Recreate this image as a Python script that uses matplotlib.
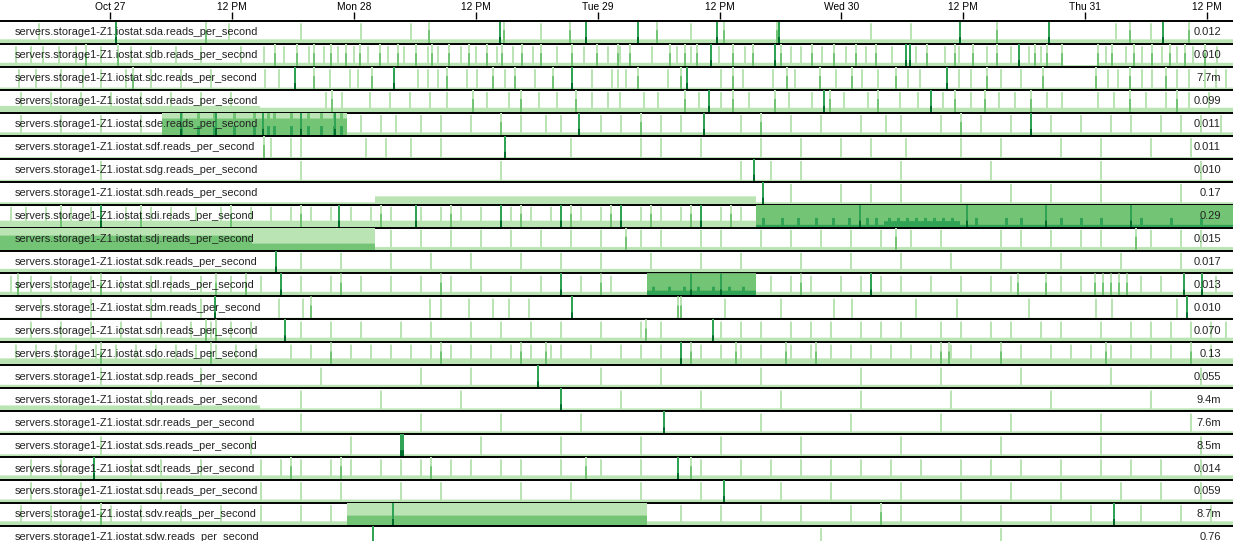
import numpy as np
import matplotlib.pyplot as plt

plt.rcParams['font.family'] = ['Liberation Sans', 'DejaVu Sans']

# one sample per step, time axis in hours from Oct 27 00:00
n = 1233
t0 = -10.83
step = 12 / 121.9

tick_hours = [0, 12, 24, 36, 48, 60, 72, 84, 96, 108]
tick_labels = ["Oct 27", "12 PM", "Mon 28", "12 PM", "Tue 29", "12 PM",
               "Wed 30", "12 PM", "Thu 31", "12 PM"]

disks = ["sda", "sdb", "sdc", "sdd", "sde", "sdf", "sdg", "sdh", "sdi", "sdj", "sdk", "sdl",
         "sdm", "sdn", "sdo", "sdp", "sdq", "sdr", "sds", "sdt", "sdu", "sdv", "sdw"]
last_values = ["0.012", "0.010", "7.7m", "0.099", "0.011", "0.011", "0.010", "0.17", "0.29",
               "0.015", "0.017", "0.013", "0.010", "0.070", "0.13", "0.055", "9.4m", "7.6m",
               "8.5m", "0.014", "0.059", "8.7m", "0.76"]

# background level segments: (first sample, last sample, level in bands)
floors = {
    "sda": [(0, 1233, 0.2)],
    "sdb": [(0, 1061, 0.18), (1061, 1097, 0.08), (1097, 1233, 0.18)],
    "sdc": [(0, 1233, 0.1)],
    "sdd": [(0, 260, 0.3), (260, 1233, 0.22)],
    "sde": [(0, 162, 0.15), (162, 347, 1.75), (347, 1233, 0.15)],
    "sdf": [(0, 1233, 0.07)],
    "sdg": [(0, 1233, 0.08)],
    "sdh": [(0, 375, 0.1), (375, 756, 0.36), (756, 1233, 0.1)],
    "sdi": [(0, 756, 0.3), (756, 884, 2.12), (884, 960, 2.28), (960, 1233, 2.12)],
    "sdj": [(0, 252, 1.65), (252, 375, 1.3), (375, 1233, 0.15)],
    "sdk": [(0, 1233, 0.2)],
    "sdl": [(0, 647, 0.2), (647, 756, 2.25), (756, 1233, 0.2)],
    "sdm": [(0, 1233, 0.07)],
    "sdn": [(0, 1233, 0.2)],
    "sdo": [(0, 1233, 0.3)],
    "sdp": [(0, 1233, 0.15)],
    "sdq": [(0, 260, 0.25), (260, 1233, 0.12)],
    "sdr": [(0, 1233, 0.12)],
    "sds": [(0, 1233, 0.12)],
    "sdt": [(0, 1233, 0.2)],
    "sdu": [(0, 1233, 0.15)],
    "sdv": [(0, 347, 0.2), (347, 647, 1.45), (647, 1233, 0.2)],
    "sdw": [(0, 1233, 0.05)],
}

# spikes (sample index) that reach the first band
light_spikes = {
    "sda": [38, 228, 300, 360, 410, 540, 690, 870, 910, 1115, 1150],
    "sdb": [15, 30, 42, 58, 75, 100, 130, 150, 175, 200, 240, 263, 283, 308, 323, 337, 353, 367,
            387, 403, 427, 437, 460, 475, 496, 512, 532, 556, 583, 607, 619, 651, 676, 690, 718,
            744, 790, 800, 821, 845, 865, 891, 915, 944, 958, 986, 1010, 1028, 1040, 1105, 1125,
            1141, 1161, 1176, 1192, 1216],
    "sdc": [18, 35, 60, 82, 100, 125, 150, 180, 210, 264, 278, 329, 349, 357, 417, 427, 437, 466,
            476, 504, 534, 591, 611, 617, 625, 667, 720, 742, 772, 794, 835, 861, 877, 907, 919,
            958, 970, 1000, 1020, 1107, 1117, 1141, 1151, 1176, 1188, 1204, 1215, 1225],
    "sdd": [20, 50, 80, 110, 140, 170, 200, 230, 325, 341, 369, 389, 409, 429, 446, 486, 508, 538,
            556, 591, 607, 619, 643, 657, 698, 720, 748, 788, 811, 843, 867, 899, 917, 942, 970,
            998, 1014, 1046, 1061, 1097, 1113, 1145, 1165, 1188, 1208],
    "sde": [20, 60, 100, 140, 360, 380, 395, 420, 440, 470, 520, 545, 560, 600, 620, 660, 680, 740,
            790, 820, 860, 885, 900, 940, 980, 1010, 1050, 1080, 1110, 1130, 1160, 1180, 1200, 1220],
    "sdf": [270, 290, 300, 365, 385, 410, 440, 570, 640, 660, 700, 760, 800, 840, 870, 905, 960,
            1000, 1060, 1100, 1150, 1190],
    "sdg": [100, 300, 500, 740, 770, 800, 900, 990, 1100, 1200],
    "sdh": [790, 840, 870, 900, 960, 1010, 1050, 1100, 1180],
    "sdi": [10, 25, 45, 70, 90, 125, 150, 170, 195, 220, 250, 270, 290, 310, 330, 350, 370, 390,
            420, 440, 460, 480, 510, 530, 550, 580, 600, 640, 660, 680, 720, 740],
    "sdj": [390, 420, 450, 480, 510, 540, 570, 600, 640, 660, 700, 720, 760, 790, 820, 850, 880,
            910, 940, 1000, 1020, 1050, 1080, 1100, 1150, 1180, 1200],
    "sdk": [300, 340, 390, 430, 470, 520, 560, 600, 650, 700, 740, 800, 850, 900, 950, 1000, 1060,
            1120, 1180],
    "sdl": [10, 30, 50, 70, 90, 120, 150, 170, 200, 230, 260, 300, 330, 360, 390, 420, 450, 480,
            510, 540, 580, 610, 770, 790, 810, 840, 860, 880, 900, 930, 960, 990, 1010, 1060, 1080,
            1140, 1160, 1215],
    "sdm": [40, 90, 150, 200, 278, 302, 429, 440, 468, 492, 508, 528, 724, 780, 833, 851, 915, 956,
            1028, 1095, 1111, 1176],
    "sdn": [30, 60, 90, 120, 160, 190, 210, 230, 250, 300, 330, 360, 400, 430, 470, 500, 530, 560,
            600, 640, 660, 720, 740, 760, 790, 810, 830, 860, 880, 900, 940, 960, 990, 1010, 1040,
            1060, 1100, 1130, 1150, 1170, 1190, 1210, 1225],
    "sdo": [15, 35, 55, 75, 95, 115, 135, 155, 175, 195, 215, 235, 255, 290, 310, 330, 350, 370,
            390, 410, 430, 450, 470, 490, 510, 530, 550, 560, 590, 620, 640, 660, 700, 720, 740,
            760, 790, 810, 830, 850, 870, 890, 910, 930, 950, 970, 1000, 1020, 1050, 1070, 1090,
            1110, 1130, 1150, 1170, 1190, 1210],
    "sdp": [100, 200, 320, 420, 470, 600, 660, 760, 860, 940, 1020, 1110, 1200],
    "sdq": [150, 300, 380, 460, 620, 700, 780, 860, 950, 1050, 1150],
    "sdr": [300, 420, 500, 580, 760, 850, 940, 1010, 1100, 1190],
    "sds": [100, 250, 350, 480, 560, 640, 720, 800, 900, 1000, 1100, 1200],
    "sdt": [30, 60, 130, 160, 200, 260, 280, 300, 330, 350, 380, 400, 420, 450, 470, 500, 520, 560,
            600, 640, 700, 740, 770, 800, 830, 860, 890, 920, 960, 990, 1020, 1060, 1100, 1130,
            1160, 1200],
    "sdu": [30, 80, 160, 260, 300, 340, 400, 440, 520, 570, 640, 700, 780, 830, 900, 960, 1010,
            1060, 1120, 1160, 1200],
    "sdv": [20, 50, 80, 110, 140, 180, 220, 260, 300, 330, 680, 720, 760, 800, 850, 900, 960, 1000,
            1050, 1090, 1140, 1180, 1210],
    "sdw": [820, 1000],
}

# spikes that reach the second band
mid_spikes = {
    "sda": [205, 428, 503, 569, 656, 723, 776, 996, 1129, 1188],
    "sdb": [85, 117, 274, 296, 313, 330, 345, 359, 379, 397, 415, 431, 448, 468, 486, 501, 521,
            540, 571, 596, 617, 629, 669, 684, 696, 732, 752, 780, 811, 833, 855, 875, 926, 954,
            972, 996, 1034, 1046, 1061, 1097, 1111, 1133, 1151, 1169, 1184, 1204],
    "sdc": [132, 313, 371, 446, 492, 514, 552, 637, 680, 732, 786, 819, 851, 895, 986, 1042, 1095,
            1129, 1165],
    "sdd": [331, 472, 520, 575, 684, 732, 774, 829, 877, 954, 984, 1030, 1129, 1176],
    "sde": [200, 240, 280, 320, 500, 640, 760, 960],
    "sdf": [263],
    "sdi": [60, 140, 230, 300, 380, 450, 520, 570, 610, 650, 690, 730],
    "sdj": [625, 895, 1135],
    "sdl": [17, 100, 215, 245, 340, 440, 600, 800, 1017, 1045, 1094, 1102, 1110, 1118, 1126],
    "sdm": [310, 677, 680],
    "sdn": [205, 215, 645],
    "sdo": [100, 210, 330, 440, 520, 545, 690, 735, 785, 815, 940, 948, 1000, 1105, 1190],
    "sdt": [290, 340, 430, 585, 690],
    "sdv": [100, 880],
}

# texture inside the busy stretches, reaching into the third band
deep_spikes = {
    "sde": [180, 197, 213, 233, 253, 267, 273, 290, 307, 320, 333, 340],
    "sdi": [762, 781, 797, 815, 832, 848, 866, 875, 888, 897, 906, 915, 924, 933, 942, 951,
            975, 1005, 1020, 1060, 1080, 1100, 1140, 1170, 1200],
    "sdl": [652, 668, 683, 697, 712, 728, 742],
}

# spikes that reach the top band
dark_spikes = {
    "sda": [115, 499, 585, 637, 716, 778, 959, 1048, 1162],
    "sdb": [710, 774, 905, 909, 1018],
    "sdc": [294, 393, 571, 686, 946],
    "sdd": [708, 823, 930],
    "sde": [180, 215, 262, 300, 334, 578, 703, 1030],
    "sdf": [504],
    "sdg": [753],
    "sdh": [762],
    "sdi": [100, 338, 415, 500, 560, 620, 700, 859, 966, 1045, 1130],
    "sdk": [275],
    "sdl": [280, 560, 690, 720, 870, 1183, 1201],
    "sdm": [214, 571, 1186],
    "sdn": [284, 712],
    "sdo": [680],
    "sdp": [537],
    "sdq": [560],
    "sdr": [663],
    "sds": [400, 401, 402],
    "sdt": [93, 677],
    "sdu": [723],
    "sdv": [392, 1113],
    "sdw": [372],
}

colors = ["#bae4b3", "#74c476", "#31a354", "#006d2c"]
W, H = 1233, 541
top0 = 21.0
pitch = 22.95

fig = plt.figure(figsize=(W / 100, H / 100), dpi=100)
fig.patch.set_facecolor("white")

# time axis
axt = fig.add_axes([0, 1 - 18 / H, 1, 6 / H])
axt.set_xlim(0, n)
axt.set_ylim(0, 1)
axt.xaxis.tick_top()
axt.set_xticks([(h - t0) / step for h in tick_hours])
axt.set_xticklabels(tick_labels, fontsize=7.4, color="#000")
axt.tick_params(axis="x", direction="in", length=5, width=1, pad=0, colors="#000")
axt.set_yticks([])
for s in axt.spines.values():
    s.set_visible(False)


def bump(v, idx, level, width):
    for p in idx:
        v[p:p + width] = np.maximum(v[p:p + width], level)


x = np.arange(n + 1)
for i, d in enumerate(disks):
    v = np.zeros(n)
    for a, b, lev in floors[d]:
        v[a:b] = np.maximum(v[a:b], lev)
    bump(v, light_spikes.get(d, []), 0.9, 2)
    bump(v, mid_spikes.get(d, []), 1.6, 2)
    bump(v, deep_spikes.get(d, []), 2.42, 3)
    bump(v, dark_spikes.get(d, []), 3.3, 2)
    v = np.append(v, v[-1])

    top = top0 + pitch * i
    ax = fig.add_axes([0, 1 - (top + pitch) / H, 1, pitch / H])
    ax.set_xlim(0, n)
    ax.set_ylim(0, 1)
    ax.axis("off")
    for k, c in enumerate(colors):
        band = np.clip(v - k, 0, 1)
        ax.fill_between(x, 0, band, step="post", color=c, lw=0)
    ax.axhline(0, color="black", lw=1.4, clip_on=False)
    if i == 0:
        ax.axhline(1, color="black", lw=1.4, clip_on=False)
    ax.text(15, 0.5, "servers.storage1-Z1.iostat." + d + ".reads_per_second",
            fontsize=7.9, color="#222", va="center", ha="left")
    ax.text(n - 12, 0.5, last_values[i], fontsize=8, color="#222", va="center", ha="right")

fig.savefig("out.png", dpi=100, facecolor="white")
